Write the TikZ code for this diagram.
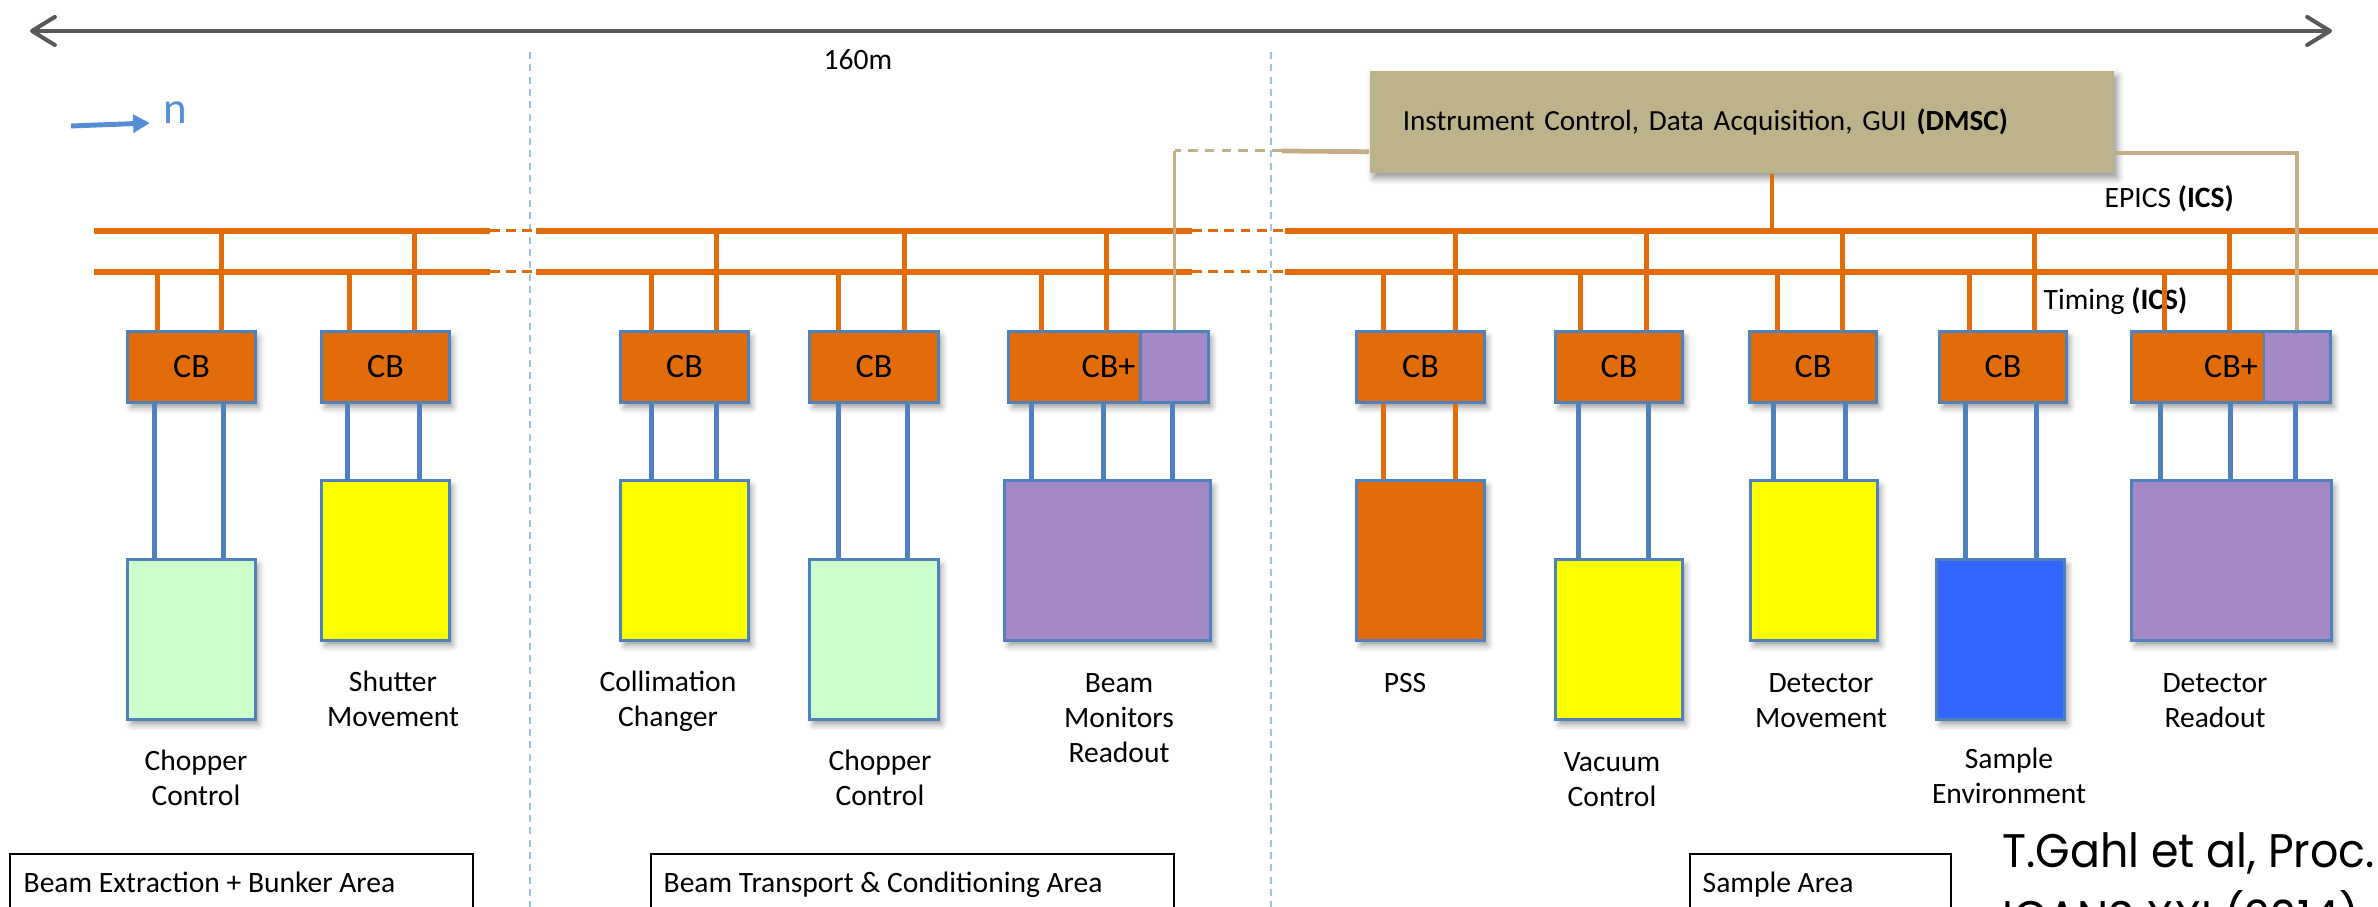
\documentclass[tikz,border=0pt]{standalone}
\usepackage{fontspec}
\usepackage{graphicx}
\setmainfont{Carlito}
\newfontfamily\citefont{Poppins}
\usetikzlibrary{arrows.meta,shadows.blur}

\definecolor{busorange}{HTML}{E36C0A}
\definecolor{edgeblue}{HTML}{4F81BD}
\definecolor{chopgreen}{HTML}{CCFFCC}
\definecolor{motionyellow}{HTML}{FFFF00}
\definecolor{readpurple}{HTML}{A288C4}
\definecolor{sampleblue}{HTML}{3366FF}
\definecolor{dmsctan}{HTML}{BDB38A}
\definecolor{tanwire}{HTML}{C4AC84}
\definecolor{zoneline}{HTML}{9DC3E6}
\definecolor{scalegray}{HTML}{595959}
\definecolor{beamblue}{HTML}{558ED5}

% wire from a controller box down to the device it drives
\newcommand\devlink[4][link]{\draw[#1] ([xshift=#4]#2.south west) -- ([xshift=#4]#2.south west |- #3.north);}
% tap from a bus line down to a controller box
\newcommand\busdrop[3]{\draw[drop] ([xshift=#3]#1.north west) -- ([xshift=#3]#1.north west |- #2);}

\begin{document}
\begin{tikzpicture}[x=0.01cm,y=-0.01cm,
  softshadow/.style={blur shadow={shadow xshift=1pt,shadow yshift=-1.5pt,shadow blur radius=1.8pt,shadow opacity=40}},
  bus/.style={busorange,line width=1.55pt},
  busgap/.style={busorange,line width=0.85pt,dash pattern=on 2.8pt off 1.8pt},
  drop/.style={busorange,line width=1.2pt},
  link/.style={edgeblue,line width=1.3pt},
  orangelink/.style={busorange,line width=1.3pt},
  dmscwire/.style={tanwire,line width=1.2pt},
  dmscgap/.style={dmsctan,line width=0.85pt,dash pattern=on 2.8pt off 2pt},
  cbbox/.style={draw=edgeblue,line width=0.85pt,fill=busorange,minimum width=1.27cm,minimum height=0.70cm,inner sep=0pt,softshadow,font=\fontsize{9.7}{11}\selectfont},
  purplebox/.style={draw=edgeblue,line width=0.85pt,fill=readpurple,minimum height=0.70cm,inner sep=0pt},
  devbox/.style={draw=edgeblue,line width=0.85pt,minimum width=1.27cm,minimum height=1.59cm,inner sep=0pt,softshadow},
  lbl/.style={font=\fontsize{8.4}{9.96}\selectfont,align=center,inner sep=0pt},
  txt/.style={font=\fontsize{8.4}{9.96}\selectfont,inner sep=0pt},
  citetxt/.style={font=\citefont\fontsize{13.4}{16}\selectfont,inner sep=0pt,anchor=base west},
  areabox/.style={draw=black,line width=0.6pt,minimum width=#1,minimum height=1.2cm,anchor=north west,inner sep=0pt},
]
\useasboundingbox (0,0) rectangle (2378,907);
\clip (0,0) rectangle (2378,907);

% zone dividers
\draw[zoneline,line width=0.5pt,dash pattern=on 2pt off 1.5pt] (530,52) -- (530,907);
\draw[zoneline,line width=0.5pt,dash pattern=on 2pt off 1.5pt] (1271,52) -- (1271,907);

% overall length scale
\draw[scalegray,line width=1.15pt,{Straight Barb[round,length=6.5pt,width=8pt]}-{Straight Barb[round,length=6.5pt,width=8pt]}] (30,31) -- (2332,31);
\node[txt,anchor=base west] (len) at (823,70) {160m};

% neutron direction
\node[inner sep=0pt,anchor=base west,text=beamblue,font=\fontsize{12.8}{14}\selectfont] (ndir) at (163,124) {n};
\draw[beamblue,line width=1.4pt,-{Triangle[length=4.8pt,width=5pt]}] (71,126) -- (150,123);

% bus lines
\coordinate (ebus) at (0,231);
\coordinate (tbus) at (0,272);
\foreach \y in {231,272}{
  \draw[bus] (94,\y) -- (490,\y);
  \draw[busgap] (490,\y) -- (536,\y);
  \draw[bus] (536,\y) -- (1192,\y);
  \draw[busgap] (1192,\y) -- (1285,\y);
  \draw[bus] (1285,\y) -- (2378,\y);
}
\node[txt,anchor=base west] (epics) at (2104,208) {EPICS \textbf{(ICS)}};
\node[txt,anchor=base west] (timing) at (2043,310) {Timing \textbf{(ICS)}};

% instrument control
\node[fill=dmsctan,minimum width=7.44cm,minimum height=1.02cm,text width=6.78cm,inner xsep=0.33cm,inner ysep=0pt,align=left,softshadow,font=\fontsize{8.3}{9.96}\selectfont] (dmsc) at (1742,122) {Instrument Control, Data Acquisition, GUI \textbf{(DMSC)}};
\draw[drop] ([xshift=4.03cm]dmsc.south west) -- ([xshift=4.03cm]dmsc.south west |- ebus);

% controller boxes
\node[cbbox] (cb1) at (191.5,367) {CB};
\node[cbbox] (cb2) at (385.5,367) {CB};
\node[cbbox] (cb3) at (684.5,367) {CB};
\node[cbbox,minimum width=1.28cm] (cb4) at (874,367) {CB};
\node[cbbox,minimum width=1.99cm] (cbp1) at (1108.5,367) {CB+};
\node[purplebox,minimum width=0.67cm] (pp1) at (1174.5,367) {};
\node[cbbox] (cb5) at (1420.5,367) {CB};
\node[cbbox,minimum width=1.26cm] (cb6) at (1619,367) {CB};
\node[cbbox,minimum width=1.26cm] (cb7) at (1813,367) {CB};
\node[cbbox,minimum width=1.26cm] (cb8) at (2003,367) {CB};
\node[cbbox,minimum width=1.98cm] (cbp2) at (2231,367) {CB+};
\node[purplebox,minimum width=0.66cm] (pp2) at (2297,367) {};

% taps from the timing and EPICS buses
\busdrop{cb1}{tbus}{0.31cm}  \busdrop{cb1}{ebus}{0.95cm}
\busdrop{cb2}{tbus}{0.29cm}  \busdrop{cb2}{ebus}{0.94cm}
\busdrop{cb3}{tbus}{0.32cm}  \busdrop{cb3}{ebus}{0.97cm}
\busdrop{cb4}{tbus}{0.30cm}  \busdrop{cb4}{ebus}{0.96cm}
\busdrop{cbp1}{tbus}{0.34cm} \busdrop{cbp1}{ebus}{0.99cm}
\busdrop{cb5}{tbus}{0.28cm}  \busdrop{cb5}{ebus}{1.00cm}
\busdrop{cb6}{tbus}{0.26cm}  \busdrop{cb6}{ebus}{0.92cm}
\busdrop{cb7}{tbus}{0.29cm}  \busdrop{cb7}{ebus}{0.94cm}
\busdrop{cb8}{tbus}{0.31cm}  \busdrop{cb8}{ebus}{0.96cm}
\busdrop{cbp2}{tbus}{0.34cm} \busdrop{cbp2}{ebus}{0.99cm}

% direct data links to the instrument control
\coordinate (wl) at (1282,151);
\draw[dmscwire,line width=1.35pt] ([yshift=0.22cm]dmsc.south west) -- (wl);
\draw[dmscgap] (wl) -- (pp1.north |- wl);
\draw[dmscwire,line width=1.05pt] (pp1.north |- wl) -- (pp1.north);
\draw[dmscwire] ([yshift=0.21cm]dmsc.south east) -| (pp2.north);

% devices
\node[devbox,fill=chopgreen] (dev1) at (191.5,639.5) {};
\node[devbox,fill=motionyellow] (dev2) at (385.5,560.5) {};
\node[devbox,fill=motionyellow] (dev3) at (684.5,560.5) {};
\node[devbox,fill=chopgreen,minimum width=1.28cm] (dev4) at (874,639.5) {};
\node[devbox,fill=readpurple,minimum width=2.05cm] (dev5) at (1107.5,560.5) {};
\node[devbox,fill=busorange] (dev6) at (1420.5,560.5) {};
\node[devbox,fill=motionyellow,minimum width=1.26cm] (dev7) at (1619,639.5) {};
\node[devbox,fill=motionyellow,minimum width=1.26cm] (dev8) at (1814,560.5) {};
\node[devbox,fill=sampleblue] (dev9) at (2000.5,639.5) {};
\node[devbox,fill=readpurple,minimum width=1.99cm] (dev10) at (2231.5,560.5) {};

\devlink{cb1}{dev1}{0.28cm}  \devlink{cb1}{dev1}{0.97cm}
\devlink{cb2}{dev2}{0.27cm}  \devlink{cb2}{dev2}{0.99cm}
\devlink{cb3}{dev3}{0.32cm}  \devlink{cb3}{dev3}{0.97cm}
\devlink{cb4}{dev4}{0.30cm}  \devlink{cb4}{dev4}{0.99cm}
\devlink{cbp1}{dev5}{0.24cm} \devlink{cbp1}{dev5}{0.96cm} \devlink{cbp1}{dev5}{1.65cm}
\devlink[orangelink]{cb5}{dev6}{0.28cm} \devlink[orangelink]{cb5}{dev6}{1.00cm}
\devlink{cb6}{dev7}{0.24cm}  \devlink{cb6}{dev7}{0.94cm}
\devlink{cb7}{dev8}{0.25cm}  \devlink{cb7}{dev8}{0.97cm}
\devlink{cb8}{dev9}{0.27cm}  \devlink{cb8}{dev9}{0.98cm}
\devlink{cbp2}{dev10}{0.30cm} \devlink{cbp2}{dev10}{1.00cm} \devlink{cbp2}{dev10}{1.65cm}

% device names
\node[lbl,anchor=north] (n1) at (196,749) {Chopper\\Control};
\node[lbl,anchor=north] (n2) at (393,670) {Shutter\\Movement};
\node[lbl,anchor=north] (n3) at (668,670) {Collimation\\Changer};
\node[lbl,anchor=north] (n4) at (880,749) {Chopper\\Control};
\node[lbl,anchor=north] (n5) at (1119,673) {Beam\\Monitors\\Readout};
\node[lbl,anchor=north] (n6) at (1405,673) {PSS};
\node[lbl,anchor=north] (n7) at (1612,752) {Vacuum\\Control};
\node[lbl,anchor=north] (n8) at (1821,673) {Detector\\Movement};
\node[lbl,anchor=north] (n9) at (2009,747) {Sample\\Environment};
\node[lbl,anchor=north] (n10) at (2215,673) {Detector\\Readout};

% areas
\node[areabox=4.63cm] (area1) at (9,853) {};
\node[areabox=5.23cm] (area2) at (650,853) {};
\node[areabox=2.61cm] (area3) at (1689,853) {};
\node[txt,anchor=base west] at ([shift={(0.14cm,-0.39cm)}]area1.north west) {Beam Extraction + Bunker Area};
\node[txt,anchor=base west] at ([shift={(0.13cm,-0.39cm)}]area2.north west) {Beam Transport \& Conditioning Area};
\node[txt,anchor=base west] at ([shift={(0.13cm,-0.39cm)}]area3.north west) {Sample Area};

% reference
\node[citetxt] (cite1) at (2002,868) {\scalebox{0.94}[1]{T.Gahl et al, Proc.}};
\node[citetxt] (cite2) at (2002,935) {\scalebox{0.94}[1]{ICANS XXI (2014)}};
\end{tikzpicture}
\end{document}
